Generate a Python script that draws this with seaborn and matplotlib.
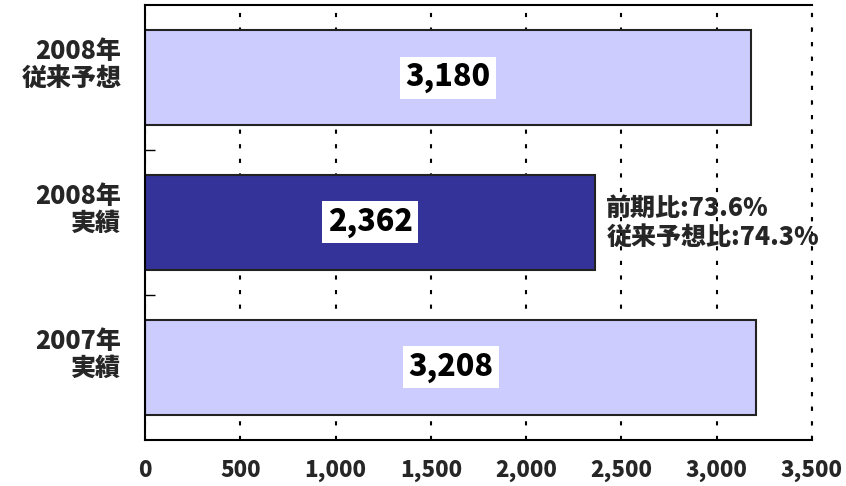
import pandas as pd
import seaborn as sns
import matplotlib.pyplot as plt

# データ
categories = ['2008年\n従来予想', '2008年\n実績', '2007年\n実績']
values = [3180, 2362, 3208]
colors = ['#CCCCFF', '#333399', '#CCCCFF']
note = '前期比:73.6%\n従来予想比:74.3%'
xticks = [0, 500, 1000, 1500, 2000, 2500, 3000, 3500]

sns.set_style('white')
plt.rcParams['font.family'] = ['Noto Sans CJK JP', 'DejaVu Sans']
plt.rcParams['font.weight'] = 'heavy'

df = pd.DataFrame({'cat': categories, 'val': values})

fig = plt.figure(figsize=(8.46, 4.86), dpi=100)
ax = fig.add_axes([0.1714, 0.0947, 0.7884, 0.895])

sns.barplot(data=df, x='val', y='cat', hue='cat', palette=colors, legend=False,
            saturation=1, width=0.66, edgecolor='#222222', linewidth=1.5, ax=ax)

# 値ラベル
for i, v in enumerate(values):
    ax.text(v / 2, i, f'{v:,}', ha='center', va='center', fontsize=22,
            fontweight='heavy', color='black',
            bbox=dict(facecolor='white', edgecolor='none', pad=4))

ax.annotate(note, xy=(values[1], 1), xytext=(8, 0), textcoords='offset points',
            ha='left', va='center', fontsize=18, fontweight='heavy', linespacing=1.1)

ax.set_xlim(0, 3500)
ax.set_ylim(2.5, -0.5)
ax.set_xticks(xticks)
ax.set_xticklabels([f'{t:,}' for t in xticks], fontsize=16, fontweight='heavy')
# ラベルはバー中心より少し上
ax.set_yticks([i - 0.11 for i in range(len(categories))])
ax.set_yticklabels(categories, fontsize=18, fontweight='heavy', linespacing=1.05)
ax.set_yticks([0.5, 1.5], minor=True)
ax.tick_params(axis='y', which='major', left=False, length=0, pad=17)
ax.tick_params(axis='y', which='minor', left=True, length=7, width=1,
               direction='in', color='black')
ax.tick_params(axis='x', length=0, pad=14)
ax.set_xlabel('')
ax.set_ylabel('')

ax.grid(axis='x', color='black', linestyle=(0, (2, 5)), linewidth=1.5)
ax.set_axisbelow(True)
for s in ['left', 'bottom', 'top']:
    ax.spines[s].set_color('black')
    ax.spines[s].set_linewidth(1.5)
ax.spines['right'].set_visible(False)
ax.axvline(3500, color='black', linestyle=(0, (2, 5)), linewidth=1.5, clip_on=False)

fig.savefig('out.png', dpi=100)
